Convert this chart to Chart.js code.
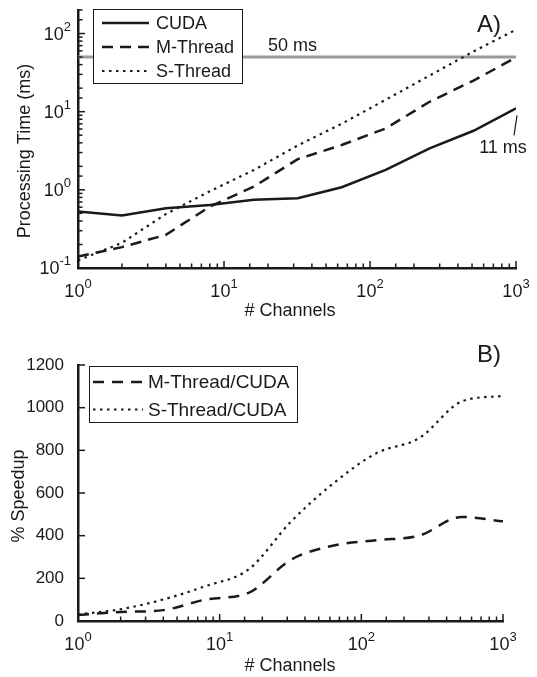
<!DOCTYPE html>
<html>
<head>
<meta charset="utf-8">
<script src="https://cdn.jsdelivr.net/npm/chart.js@4.4.1/dist/chart.umd.min.js"></script>
<style>
  html, body { margin: 0; padding: 0; background: #fff; }
  #wrap { position: relative; width: 537px; height: 677px; }
  canvas { position: absolute; left: 0; }
  #top { top: 0; }
  #bottom { top: 320px; }
</style>
</head>
<body>
<div id="wrap">
  <canvas id="top" width="537" height="320"></canvas>
  <canvas id="bottom" width="537" height="357"></canvas>
</div>
<script>
// number of channels (x for both panels)
const channels = [1, 2, 4, 8, 16, 32, 64, 128, 256, 512, 1000];

// panel A: processing time in ms
const cudaMs = [0.53, 0.47, 0.58, 0.64, 0.745, 0.78, 1.08, 1.8, 3.4, 5.7, 11];
const mThreadMs = [0.14, 0.185, 0.266, 0.61, 1.1, 2.47, 3.75, 6.1, 13.4, 25, 49.5];
const sThreadMs = [0.125, 0.21, 0.49, 0.96, 1.79, 3.7, 7, 14.2, 29, 59, 112];
const limitMs = 50;

// panel B: % speedup vs CUDA
const mSpeedup = [28, 42, 51, 101, 132, 288, 354, 379, 400, 488, 467];
const sSpeedup = [31, 55, 101, 164, 242, 467, 647, 787, 857, 1029, 1055];

const INK = '#1a1a1a';
const GREY = '#9a9a9a';
const FONT = '"Liberation Sans", Arial, Helvetica, sans-serif';

const SOLID = [];
const DASHED = [11, 7];
const DOTTED = [2.5, 4.5];

function points(ys) {
  return channels.map(function(x, i) { return { x: x, y: ys[i] }; });
}

function lineSet(label, ys, dash, width, extra) {
  return Object.assign({
    label: label,
    data: points(ys),
    borderColor: INK,
    borderWidth: width,
    borderDash: dash,
    pointRadius: 0,
    fill: false,
    tension: 0,
  }, extra || {});
}

function isDecade(v) {
  const l = Math.log10(v);
  return Math.abs(l - Math.round(l)) < 1e-6;
}

function font(size) {
  return size + 'px ' + FONT;
}

// "10" with a raised exponent, as matlab prints log ticks
function powLabel(ctx, v, x, y, axis) {
  const exp = String(Math.round(Math.log10(v)));
  ctx.font = font(18);
  const w10 = ctx.measureText('10').width;
  ctx.font = font(13);
  const we = ctx.measureText(exp).width;
  let start, base;
  if (axis === 'x') {
    start = x - (w10 + we) / 2;
    base = y + 29;
  } else {
    start = x - 7 - (w10 + we);
    base = y + 6;
  }
  ctx.textAlign = 'left';
  ctx.textBaseline = 'alphabetic';
  ctx.font = font(18);
  ctx.fillText('10', start, base);
  ctx.font = font(13);
  ctx.fillText(exp, start + w10, base - 9);
}

function inwardTicks(ctx, scale, area, horizontal) {
  const log = scale.type === 'logarithmic';
  ctx.lineWidth = 1.5;
  scale.ticks.forEach(function(t) {
    const len = (!log || isDecade(t.value)) ? 7 : 4.5;
    const p = scale.getPixelForValue(t.value);
    ctx.beginPath();
    if (horizontal) {
      ctx.moveTo(p, area.bottom);
      ctx.lineTo(p, area.bottom - len);
    } else {
      ctx.moveTo(area.left, p);
      ctx.lineTo(area.left + len, p);
    }
    ctx.stroke();
    if (log && isDecade(t.value)) {
      if (horizontal) powLabel(ctx, t.value, p, area.bottom, 'x');
      else powLabel(ctx, t.value, area.left, p, 'y');
    }
  });
}

function text(ctx, str, x, y, size, align, baseline, rot) {
  ctx.save();
  ctx.font = font(size);
  ctx.textAlign = align;
  ctx.textBaseline = baseline;
  ctx.translate(x, y);
  if (rot) ctx.rotate(rot);
  ctx.fillText(str, 0, 0);
  ctx.restore();
}

function drawLegend(ctx, chart, lg) {
  const area = chart.chartArea;
  const left = area.left + lg.dx;
  const top = lg.top;
  ctx.fillStyle = '#fff';
  ctx.fillRect(left, top, lg.width, lg.height);
  ctx.strokeStyle = INK;
  ctx.lineWidth = 1;
  ctx.setLineDash([]);
  ctx.strokeRect(left + 0.5, top + 0.5, lg.width, lg.height);
  const items = chart.data.datasets.filter(function(d) { return !d.noLegend; });
  items.forEach(function(d, i) {
    const y = top + lg.first + i * lg.gap;
    ctx.beginPath();
    ctx.lineWidth = d.borderWidth;
    ctx.setLineDash(d.borderDash);
    ctx.moveTo(left + lg.sampleFrom, y);
    ctx.lineTo(left + lg.sampleFrom + lg.sample, y);
    ctx.stroke();
    ctx.setLineDash([]);
    ctx.fillStyle = INK;
    text(ctx, d.label, left + lg.sampleFrom + lg.sample + lg.textGap, y + 1, lg.size, 'left', 'middle');
  });
}

const paperPlugin = {
  id: 'paper',
  afterDraw: function(chart, args, opts) {
    const ctx = chart.ctx;
    const area = chart.chartArea;
    ctx.save();
    ctx.strokeStyle = INK;
    ctx.fillStyle = INK;
    inwardTicks(ctx, chart.scales.x, area, true);
    inwardTicks(ctx, chart.scales.y, area, false);
    text(ctx, '# Channels', area.left + 212, opts.xTitleY, 18, 'center', 'middle');
    text(ctx, opts.yTitle, opts.yTitleX, opts.yTitleY, 18, 'center', 'middle', -Math.PI / 2);
    text(ctx, opts.panel, area.left + 399, opts.panelY, 24, 'left', 'alphabetic');
    if (opts.notes) opts.notes(ctx, chart);
    drawLegend(ctx, chart, opts.legend);
    ctx.restore();
  }
};

function axis(type, min, max, fit, extra) {
  return Object.assign({
    type: type,
    min: min,
    max: max,
    grid: { display: false },
    border: { display: true, color: INK, width: 2.5 },
    ticks: { display: false },
    afterFit: fit,
  }, extra || {});
}

const limitLine = {
  label: '50 ms',
  data: [{ x: channels[0], y: limitMs }, { x: channels[channels.length - 1], y: limitMs }],
  borderColor: GREY,
  borderWidth: 3,
  pointRadius: 0,
  noLegend: true,
};

const topChart = new Chart(document.getElementById('top'), {
  type: 'line',
  plugins: [paperPlugin],
  data: {
    datasets: [
      lineSet('CUDA', cudaMs, SOLID, 2.5),
      lineSet('M-Thread', mThreadMs, DASHED, 2.5),
      lineSet('S-Thread', sThreadMs, DOTTED, 2.2),
      limitLine,
    ],
  },
  options: {
    responsive: false,
    animation: false,
    events: [],
    devicePixelRatio: 1,
    layout: { padding: { top: 10, right: 21, left: 0, bottom: 0 } },
    scales: {
      x: axis('logarithmic', 1, 1000, function(s) { s.height = 52; }),
      y: axis('logarithmic', 0.1, 200, function(s) { s.width = 78; }),
    },
    plugins: {
      legend: { display: false },
      tooltip: { enabled: false },
      paper: {
        xTitleY: 311,
        yTitle: 'Processing Time (ms)',
        yTitleX: 25,
        yTitleY: 151,
        panel: 'A)',
        panelY: 32,
        legend: { dx: 15, top: 9, width: 149, height: 74, first: 14, gap: 24,
                  sampleFrom: 9, sample: 47, textGap: 7, size: 18 },
        notes: function(ctx, chart) {
          const xs = chart.scales.x, ys = chart.scales.y;
          text(ctx, '50 ms', xs.getPixelForValue(20), ys.getPixelForValue(limitMs) - 11, 18, 'left', 'middle');
          const px = xs.getPixelForValue(channels[channels.length - 1]);
          const py = ys.getPixelForValue(cudaMs[cudaMs.length - 1]);
          ctx.lineWidth = 1.2;
          ctx.beginPath();
          ctx.moveTo(px + 1, py + 7);
          ctx.lineTo(px - 2, py + 27);
          ctx.stroke();
          text(ctx, '11 ms', px - 13, py + 45, 18, 'center', 'alphabetic');
        },
      },
    },
  },
});

const bottomChart = new Chart(document.getElementById('bottom'), {
  type: 'line',
  plugins: [paperPlugin],
  data: {
    datasets: [
      lineSet('M-Thread/CUDA', mSpeedup, [11, 8], 2.5, { cubicInterpolationMode: 'monotone' }),
      lineSet('S-Thread/CUDA', sSpeedup, DOTTED, 2.2, { cubicInterpolationMode: 'monotone' }),
    ],
  },
  options: {
    responsive: false,
    animation: false,
    events: [],
    devicePixelRatio: 1,
    layout: { padding: { top: 45, right: 34, left: 0, bottom: 0 } },
    scales: {
      x: axis('logarithmic', 1, 1000, function(s) { s.height = 56; }),
      y: axis('linear', 0, 1200, function(s) { s.width = 78; }, {
        ticks: {
          display: true, stepSize: 200, padding: 6, color: INK,
          font: { family: FONT, size: 17 },
          callback: function(v) { return String(v); },
        },
      }),
    },
    plugins: {
      legend: { display: false },
      tooltip: { enabled: false },
      paper: {
        xTitleY: 346,
        yTitle: '% Speedup',
        yTitleX: 19,
        yTitleY: 176,
        panel: 'B)',
        panelY: 42,
        legend: { dx: 11, top: 46, width: 208, height: 56, first: 16, gap: 27.5,
                  sampleFrom: 4, sample: 50, textGap: 5, size: 19 },
      },
    },
  },
});
</script>
</body>
</html>
